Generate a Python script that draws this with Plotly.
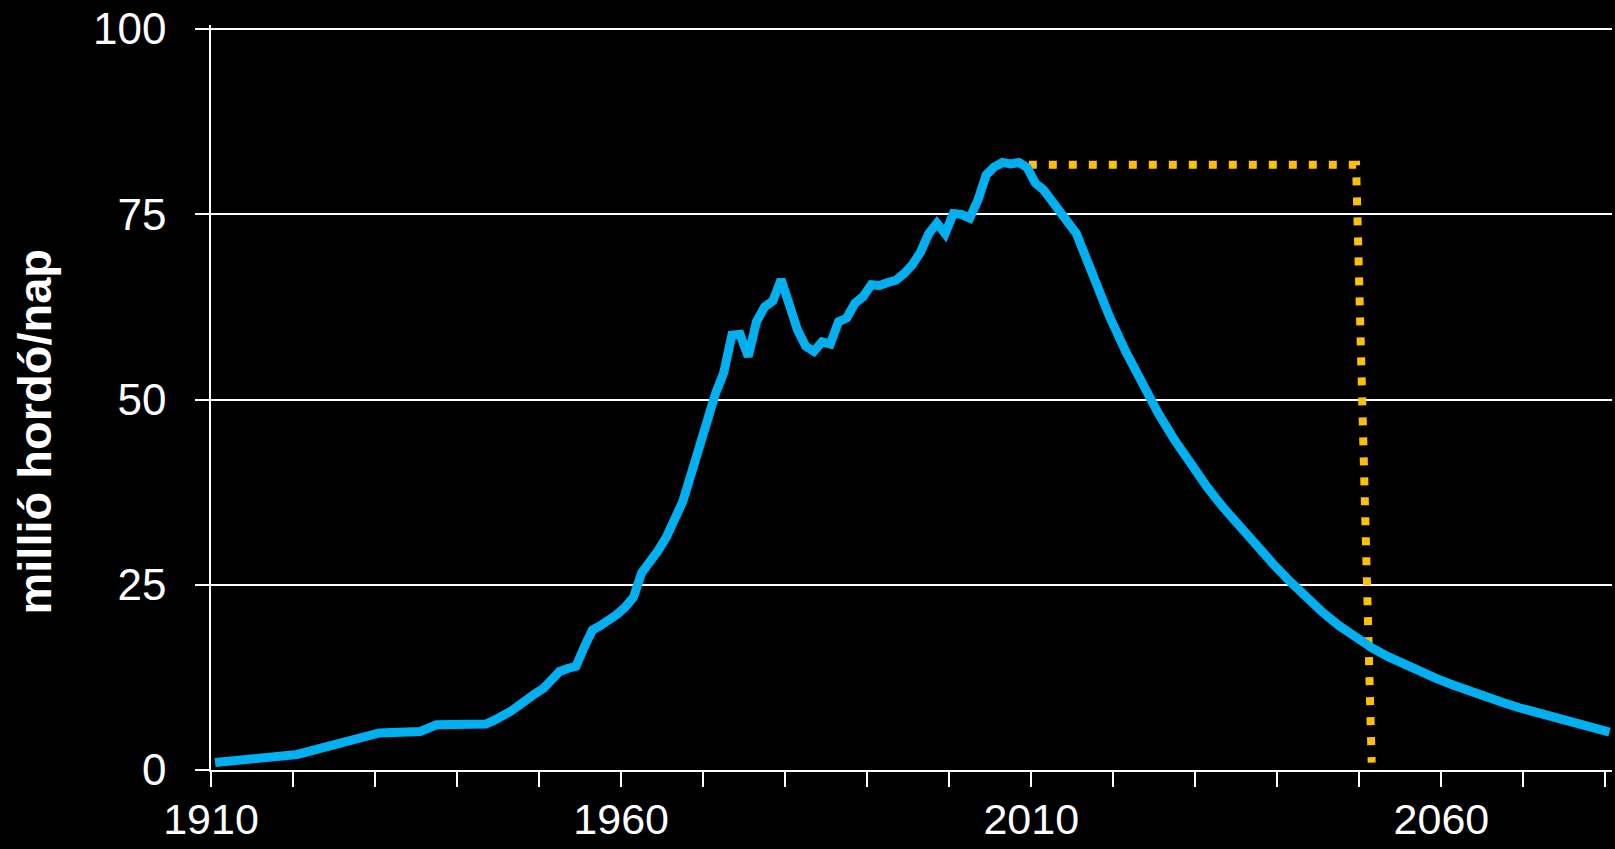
import plotly.graph_objects as go

# Historical + forecast world oil production (million barrels/day), plotted at mid-year
years = [1910, 1920, 1930, 1935, 1937, 1942, 1943, 1944, 1945, 1946, 1947, 1948, 1949,
         1950, 1951, 1952, 1953, 1954, 1955, 1956, 1957, 1958, 1959, 1960, 1961, 1962,
         1963, 1964, 1965, 1966, 1967, 1968, 1969, 1970, 1971, 1972, 1973, 1974, 1975,
         1976, 1977, 1978, 1979, 1980, 1981, 1982, 1983, 1984, 1985, 1986, 1987, 1988,
         1989, 1990, 1991, 1992, 1993, 1994, 1995, 1996, 1997, 1998, 1999, 2000, 2001,
         2002, 2003, 2004, 2005, 2006, 2007, 2008, 2009, 2010, 2011,
         2015, 2017, 2019, 2021, 2023, 2025, 2027, 2029, 2031, 2033, 2035, 2037, 2039,
         2041, 2043, 2045, 2047, 2049, 2051, 2053, 2055, 2057, 2059, 2061, 2063, 2065,
         2067, 2069, 2071, 2073, 2075, 2077, 2079, 2080]
production = [1.0, 2.1, 5.0, 5.2, 6.1, 6.0, 6.2, 6.7, 7.2, 7.9, 8.7, 9.6, 10.3,
              11.0, 12.0, 13.3, 13.7, 14.0, 16.6, 18.9, 19.5, 20.2, 21.0, 22.0, 23.3, 26.6,
              28.0, 29.6, 31.4, 33.6, 36.2, 39.8, 43.6, 48.0, 50.8, 53.6, 58.7, 58.8, 55.8,
              60.5, 62.5, 63.3, 66.2, 62.8, 59.4, 57.2, 56.5, 57.8, 57.5, 60.5, 61.0, 63.0,
              63.9, 65.5, 65.4, 65.8, 66.1, 67.0, 68.2, 69.9, 72.4, 73.8, 72.4, 75.1, 75.0,
              74.5, 76.9, 80.3, 81.4, 82.0, 81.8, 82.0, 81.3, 79.2, 78.3,
              72.4, 66.6, 61.3, 56.5, 52.1, 48.1, 44.5, 41.2, 38.1, 35.3, 32.7, 30.2, 27.8,
              25.5, 23.3, 21.3, 19.5, 17.9, 16.5, 15.3, 14.2, 13.2, 12.3, 11.45, 10.6, 9.85,
              9.1, 8.4, 7.75, 7.1, 6.5, 5.9, 5.35, 5.1]

# Plateau scenario (dotted): flat at peak level, then collapse
plateau_years = [2009.2, 2049.1, 2051.0]
plateau_values = [81.7, 81.7, 1.0]

x_ticks = list(range(1910, 2081, 10))
x_labels = [str(y) if y in (1910, 1960, 2010, 2060) else "" for y in x_ticks]
y_ticks = [0, 25, 50, 75, 100]

y_title = "millió hordó/nap"

BLUE = "#00B0F0"
GOLD = "#FFC000"
FONT = "Liberation Sans, Arial, sans-serif"

fig = go.Figure()
fig.add_trace(go.Scatter(
    x=[y + 0.5 for y in plateau_years], y=plateau_values, mode="lines",
    line=dict(color=GOLD, width=8, dash="8px,12px"), hoverinfo="skip"))
fig.add_trace(go.Scatter(
    x=[y + 0.5 for y in years], y=production, mode="lines",
    line=dict(color=BLUE, width=9), hoverinfo="skip"))

fig.update_layout(
    width=1615, height=849,
    margin=dict(l=211, r=3, t=25, b=79),
    paper_bgcolor="black", plot_bgcolor="black",
    showlegend=False,
    font=dict(family=FONT, color="white", size=44),
    xaxis=dict(range=[1910, 2080.8], tickmode="array", tickvals=x_ticks, ticktext=x_labels,
               ticks="outside", ticklen=15, tickwidth=1.5, tickcolor="white",
               showline=True, linecolor="white", linewidth=1.5,
               showgrid=False, zeroline=False, automargin=False,
               tickfont=dict(size=43, color="white", family=FONT),
               ticklabelstandoff=-4),
    yaxis=dict(range=[0, 100.55], tickmode="array", tickvals=y_ticks,
               ticks="outside", ticklen=14, tickwidth=1.5, tickcolor="white",
               showline=True, linecolor="white", linewidth=1.5,
               showgrid=True, gridcolor="white", gridwidth=1.5, zeroline=False,
               automargin=False,
               tickfont=dict(size=44, color="white", family=FONT),
               ticklabelstandoff=20),
    annotations=[dict(text="<b>" + y_title + "</b>", textangle=-90,
                      xref="paper", yref="paper", x=-0.126, y=0.455,
                      xanchor="center", yanchor="middle", showarrow=False,
                      font=dict(size=47, color="white", family=FONT))],
)

fig.write_html("out.html", config={"displayModeBar": False},
               post_script="document.body.style.margin='0';document.body.style.overflow='hidden';")
